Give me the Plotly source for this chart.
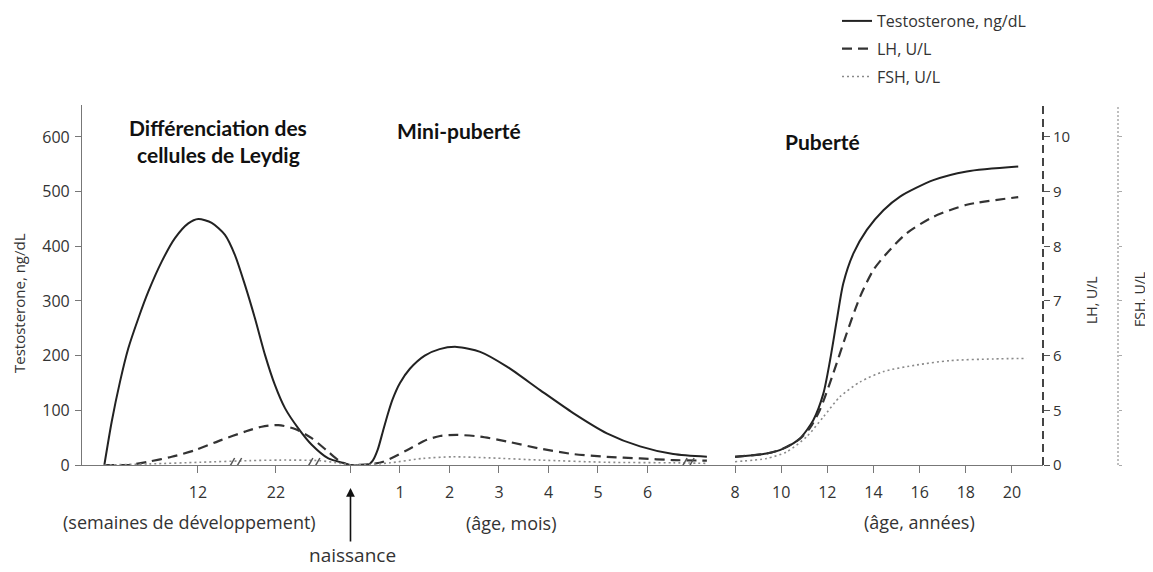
import plotly.graph_objects as go

# ---------------- data ----------------
# Fetal period (x in weeks of development)
FETAL_WEEKS_T = [0, 0.94, 2.0, 3.06, 4.35, 5.63, 7.35, 9.05, 10.76, 12.04, 13.76, 15.46, 16.74, 18.03, 19.31, 20.6, 21.87, 23.15, 24.86, 26.58, 28.71, 30.85]
FETAL_T = [0, 79, 152, 213, 268, 317, 372, 415, 442, 450, 443, 421, 384, 329, 268, 201, 146, 104, 67, 37, 12, 3]

FETAL_WEEKS_LH = [0, 3.03, 5.63, 8.63, 11.6, 15.04, 18.03, 20.17, 22.3, 24.44, 26.58, 28.71, 30.0, 31.27]
FETAL_LH = [0, 0, 0.3, 0.75, 1.35, 2.3, 3.05, 3.5, 3.65, 3.3, 2.45, 1.2, 0.45, 0]

FETAL_WEEKS_FSH = [0, 5.8, 12.3, 18.7, 22.5, 27.6, 30.2, 31.5]
FETAL_FSH = [0, 0.1, 0.25, 0.4, 0.45, 0.4, 0.15, 0]

# Mini-puberty (x in months after birth)
MINI_MONTHS_T = [0, 0.35, 0.45, 0.55, 0.65, 0.75, 0.85, 1.0, 1.2, 1.5, 1.8, 2.15, 2.62, 3.16, 3.83, 4.5, 5.18, 5.85, 6.52, 7.2]
MINI_T = [0, 0, 8, 28, 60, 92, 120, 150, 176, 200, 212, 216, 207, 180, 137, 95, 58, 34, 20, 15]

MINI_MONTHS_LH = [0, 0.35, 0.66, 1.14, 1.54, 1.81, 2.15, 2.62, 3.16, 3.83, 4.5, 5.18, 5.85, 6.52, 7.2]
MINI_LH = [0, 0.05, 0.3, 1.35, 2.3, 2.65, 2.75, 2.6, 2.15, 1.5, 1.0, 0.75, 0.6, 0.45, 0.4]

MINI_MONTHS_FSH = [0, 0.39, 0.8, 1.46, 2.07, 2.82, 3.83, 5.18, 6.52, 7.2]
MINI_FSH = [0, 0.05, 0.2, 0.6, 0.75, 0.65, 0.45, 0.25, 0.2, 0.15]

# Puberty (x in years)
PUB_YEARS_T = [8, 9.37, 10.09, 10.82, 11.39, 11.83, 12.12, 12.41, 12.69, 13.13, 13.71, 14.43, 15.15, 16.59, 18.04, 20.27]
PUB_T = [15, 21, 30, 49, 82, 131, 192, 265, 332, 387, 430, 466, 491, 521, 537, 546]

PUB_YEARS_LH = [8, 9.37, 10.09, 10.82, 11.25, 11.68, 12.26, 12.84, 13.42, 14.0, 14.57, 15.44, 16.59, 18.04, 20.27]
PUB_LH = [0.75, 1.05, 1.5, 2.4, 3.4, 5.01, 5.68, 6.41, 7.08, 7.57, 7.87, 8.24, 8.54, 8.76, 8.9]

PUB_YEARS_FSH = [8, 9.37, 10.24, 11.11, 11.83, 12.55, 13.42, 14.43, 15.87, 17.32, 19.19, 20.64]
PUB_FSH = [0.3, 0.6, 1.2, 2.6, 4.4, 5.25, 5.52, 5.71, 5.83, 5.91, 5.94, 5.95]

# Ticks
WEEK_TICKS = [12, 22]
MONTH_TICKS = [1, 2, 3, 4, 5, 6]
YEAR_TICKS = [8, 10, 12, 14, 16, 18, 20]
T_TICKS = [0, 100, 200, 300, 400, 500, 600]
LH_TICKS = [0, 5, 6, 7, 8, 9, 10]
BREAKS_WEEKS = [16.7]
BREAKS_MONTHS = [-0.76, 6.8]

# ---------------- broken-axis mappings ----------------
def x_weeks(w):
    return -3.081 + (w - 12) * 0.1576

def x_months(m):
    return m

def x_years(y):
    return 7.768 + (y - 8) * 0.4663

def ul_axis(v):
    # broken hormone axis: 0-5 U/L compressed, then 1 U/L per 100 units
    return v * 20 if v <= 5 else (v - 4) * 100

XMIN, XMAX = -5.424, 13.99
YMAX = 658.5
OFF = 8                      # page body margin of the html page
L, T, PW, PH = 82, 105, 1051, 360   # plot area in window pixels
FIG_W, FIG_H = 1153 - OFF, 572 - OFF

def pxx(px):
    return (px - L) / PW

def pxy(py):
    return 1 - (py - T) / PH

FONT = "Open Sans"
TXT = "#333333"

def seg(fx, fy, mx, my, yx, yy, tf=lambda v: v):
    xs = [x_weeks(v) for v in fx] + [x_months(v) for v in mx] + [None] + [x_years(v) for v in yx]
    ys = [tf(v) for v in fy] + [tf(v) for v in my] + [None] + [tf(v) for v in yy]
    return xs, ys

fig = go.Figure()

xt, yt = seg(FETAL_WEEKS_T, FETAL_T, MINI_MONTHS_T, MINI_T, PUB_YEARS_T, PUB_T)
fig.add_trace(go.Scatter(x=xt, y=yt, mode="lines", name="Testosterone, ng/dL",
                         legendgroup="a", line=dict(color="#222222", width=2, shape="spline", smoothing=0.7),
                         connectgaps=False, yaxis="y"))
xl, yl = seg(FETAL_WEEKS_LH, FETAL_LH, MINI_MONTHS_LH, MINI_LH, PUB_YEARS_LH, PUB_LH, ul_axis)
fig.add_trace(go.Scatter(x=xl, y=yl, mode="lines", name="LH, U/L", legendgroup="b",
                         line=dict(color="#333333", width=2.2, dash="10px,6px", shape="spline", smoothing=0.7),
                         connectgaps=False, yaxis="y2"))
xf, yf = seg(FETAL_WEEKS_FSH, FETAL_FSH, MINI_MONTHS_FSH, MINI_FSH, PUB_YEARS_FSH, PUB_FSH, ul_axis)
fig.add_trace(go.Scatter(x=xf, y=yf, mode="lines", name="FSH, U/L", legendgroup="c",
                         line=dict(color="#8a8a8a", width=1.6, dash="2px,3px", shape="spline", smoothing=0.7),
                         connectgaps=False, yaxis="y3"))

xtickvals = [x_weeks(v) for v in WEEK_TICKS] + [x_months(0)] + [x_months(v) for v in MONTH_TICKS] + [x_years(v) for v in YEAR_TICKS]
xticktext = [str(v) for v in WEEK_TICKS] + [""] + [str(v) for v in MONTH_TICKS] + [str(v) for v in YEAR_TICKS]

xdom_end = pxx(1043)
fsh_pos = pxx(1118)

fig.update_layout(
    width=FIG_W, height=FIG_H,
    margin=dict(l=L - OFF, r=FIG_W - (L - OFF) - PW, t=T - OFF, b=FIG_H - (T - OFF) - PH, autoexpand=False),
    paper_bgcolor="white", plot_bgcolor="white",
    font=dict(family=FONT, size=15, color=TXT),
    showlegend=True,
    legend=dict(x=pxx(837), y=pxy(4), xanchor="left", yanchor="top",
                font=dict(family=FONT, size=16, color=TXT), bgcolor="rgba(0,0,0,0)",
                traceorder="grouped", tracegroupgap=4, itemwidth=30),
    xaxis=dict(domain=[0, xdom_end], range=[XMIN, XMAX],
               tickvals=xtickvals, ticktext=xticktext, ticks="outside", ticklen=7,
               tickcolor="#777777", showline=True, linecolor="#777777", linewidth=1.2,
               showgrid=False, zeroline=False, tickfont=dict(size=16, color=TXT), ticklabelstandoff=6),
    yaxis=dict(range=[0, YMAX], tickvals=T_TICKS, ticks="outside", ticklen=6, tickcolor="#777777",
               showline=True, linecolor="#777777", linewidth=1.2, showgrid=False, zeroline=False,
               tickfont=dict(size=16, color=TXT), ticklabelstandoff=2),
    yaxis2=dict(range=[0, YMAX], overlaying="y", side="right", anchor="x",
                tickvals=[ul_axis(v) for v in LH_TICKS], ticktext=[str(v) for v in LH_TICKS],
                ticks="outside", ticklen=6, tickcolor="#555555", showline=False, showgrid=False,
                zeroline=False, tickfont=dict(size=15, color=TXT)),
    yaxis3=dict(range=[0, YMAX], overlaying="y", side="right", anchor="free", position=fsh_pos,
                tickvals=[ul_axis(v) for v in LH_TICKS], ticks="outside", ticklen=3,
                tickcolor="#aaaaaa", showticklabels=False, showline=False, showgrid=False, zeroline=False),
)

shapes = [
    dict(type="line", xref="paper", yref="paper", x0=xdom_end, x1=xdom_end, y0=0, y1=1,
         line=dict(color="#444444", width=2, dash="8px,5px")),
    dict(type="line", xref="paper", yref="paper", x0=fsh_pos, x1=fsh_pos, y0=0, y1=1,
         line=dict(color="#aaaaaa", width=1.5, dash="2px,2px")),
]
break_pos = [x_weeks(v) for v in BREAKS_WEEKS] + [x_months(v) for v in BREAKS_MONTHS]
for bp in break_pos:
    for off in (-4, 3):
        shapes.append(dict(type="line", xref="x", yref="y", xsizemode="pixel", ysizemode="pixel",
                           xanchor=bp, yanchor=0, x0=off - 4, x1=off + 4, y0=-7, y1=7,
                           line=dict(color="#555555", width=1.5)))
fig.update_layout(shapes=shapes)

ann = []
def txt(px, py, s, size=15, bold=False, family=FONT, angle=0, xanchor="center"):
    ann.append(dict(x=pxx(px), y=pxy(py), xref="paper", yref="paper", text=("<b>%s</b>" % s) if bold else s,
                    showarrow=False, textangle=angle, xanchor=xanchor, yanchor="middle",
                    font=dict(family=family, size=size, color="#111111" if bold else TXT)))

txt(218, 127, "Différenciation des", 21, True, "Lato")
txt(218, 154, "cellules de Leydig", 21, True, "Lato")
txt(459, 130, "Mini-puberté", 21, True, "Lato")
txt(822, 141, "Puberté", 21, True, "Lato")
txt(19, 303, "Testosterone, ng/dL", 15, angle=-90)
txt(1091, 300, "LH, U/L", 14, angle=-90)
txt(1139, 300, "FSH, U/L", 14, angle=-90)
txt(189, 522, "(semaines de développement)", 18)
txt(511, 523, "(âge, mois)", 18)
txt(919, 522, "(âge, années)", 18)
txt(352, 555, "naissance", 19)
ann.append(dict(x=x_months(0), y=pxy(488), xref="x", yref="paper", text="", showarrow=True,
                ax=0, ay=55, axref="pixel", ayref="pixel", arrowhead=2, arrowsize=1.1, arrowwidth=1.6,
                arrowcolor="#111111", standoff=0))
fig.update_layout(annotations=ann)

fig.write_html("out.html")
